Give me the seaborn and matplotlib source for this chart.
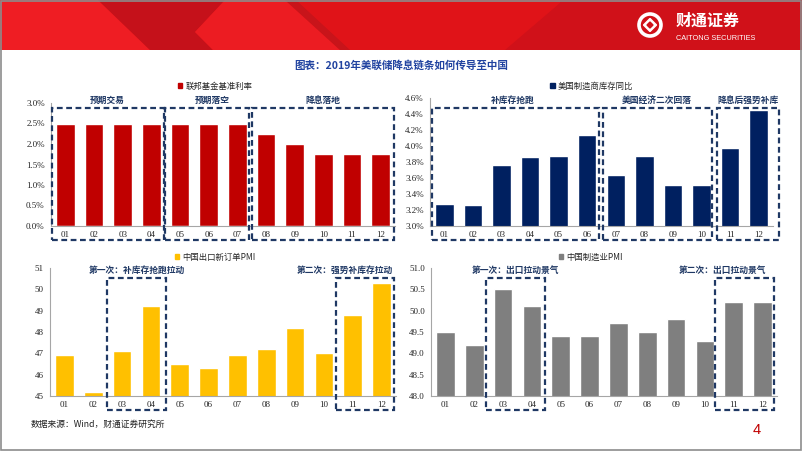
import matplotlib
matplotlib.use("Agg")
import matplotlib.pyplot as plt
import seaborn as sns
import pandas as pd
from matplotlib.patches import Rectangle, Polygon, Circle, Patch, RegularPolygon
from matplotlib.transforms import blended_transform_factory
from matplotlib.ticker import FixedLocator, FuncFormatter

# ---------------- data ----------------
months = ["01", "02", "03", "04", "05", "06", "07", "08", "09", "10", "11", "12"]
fed_rate = [2.50, 2.50, 2.50, 2.50, 2.50, 2.50, 2.50, 2.25, 2.00, 1.75, 1.75, 1.75]
us_inventory_yoy = [3.27, 3.26, 3.76, 3.86, 3.87, 4.14, 3.64, 3.87, 3.51, 3.51, 3.98, 4.45]
cn_export_order_pmi = [46.9, 45.2, 47.1, 49.2, 46.5, 46.3, 46.9, 47.2, 48.2, 47.0, 48.8, 50.3]
cn_mfg_pmi = [49.5, 49.2, 50.5, 50.1, 49.4, 49.4, 49.7, 49.5, 49.8, 49.3, 50.2, 50.2]

legend_labels = ["联邦基金基准利率", "美国制造商库存同比", "中国出口新订单PMI", "中国制造业PMI"]
tl_box_labels = ["预期交易", "预期落空", "降息落地"]
tr_box_labels = ["补库存抢跑", "美国经济二次回落", "降息后强势补库"]
bl_box_labels = ["第一次：补库存抢跑拉动", "第二次：强势补库存拉动"]
br_box_labels = ["第一次：出口拉动景气", "第二次：出口拉动景气"]
title_text = "图表：2019年美联储降息链条如何传导至中国"
source_text = "数据来源：Wind，财通证券研究所"

# ---------------- style ----------------
sns.set_style("white")
CJK = ["Noto Sans CJK SC", "DejaVu Sans"]
SERIF = ["Liberation Serif", "DejaVu Serif"]
plt.rcParams["font.family"] = CJK

W, H = 802, 451
fig = plt.figure(figsize=(W / 100, H / 100), dpi=100)

# background overlay in pixel coords
bg = fig.add_axes([0, 0, 1, 1], zorder=0)
bg.set_xlim(0, W)
bg.set_ylim(H, 0)
bg.axis("off")

# header band
bg.add_patch(Rectangle((0, 0), W, 50, color="#E01318", lw=0))
bg.add_patch(Polygon([(0, 0), (98, 0), (150, 50), (0, 50)], color="#EF1D23", lw=0))
bg.add_patch(Polygon([(98, 0), (225, 0), (195, 32), (213, 50), (150, 50)], color="#C5111A", lw=0))
bg.add_patch(Polygon([(225, 0), (285, 0), (340, 50), (213, 50), (195, 32)], color="#EC1C22", lw=0))
bg.add_patch(Polygon([(285, 0), (296, 0), (350, 50), (340, 50)], color="#C8141A", lw=0))
bg.add_patch(Polygon([(505, 50), (560, 3), (560, 0), (802, 0), (802, 50)], color="#D01119", lw=0))
# logo
bg.add_patch(Circle((650, 25), 11, fill=False, ec="white", lw=2.6))
bg.add_patch(RegularPolygon((650, 25), 4, radius=6.5, orientation=0, fc="white", ec="white"))
bg.add_patch(RegularPolygon((650, 25), 4, radius=3, orientation=0, fc="#D01119", ec="#D01119"))
bg.text(676, 21, "财通证券", color="white", fontsize=11.5, fontweight="bold",
        ha="left", va="center", family=CJK)
bg.text(676, 38.5, "CAITONG SECURITIES", color="white", fontsize=5.3,
        ha="left", va="center", family=["Liberation Sans", "DejaVu Sans"])

# frame
bg.add_patch(Rectangle((1, 1), W - 2.5, H - 2.5, fill=False, ec="#8C8C8C", lw=1.2))

# title & footer
bg.text(401, 66, title_text, color="#2143A0", fontsize=7.6, fontweight="bold",
        ha="center", va="center", family=CJK)
bg.text(31, 424, source_text, color="#222222", fontsize=6.3, ha="left", va="center", family=CJK)
bg.text(757, 430, "4", color="#C00000", fontsize=10.5, ha="center", va="center",
        family=["Liberation Sans", "DejaVu Sans"])

BOX_COLOR = "#1F3864"


def make_ax(left, right, top, bottom):
    return fig.add_axes([left / W, (H - bottom) / H, (right - left) / W, (bottom - top) / H], zorder=2)


def panel(ax, values, color, ylim, ticks, fmt, leg_label, leg_xy, boxes, labels):
    df = pd.DataFrame({"month": months, "value": values})
    sns.barplot(data=df, x="month", y="value", color=color, saturation=1, width=0.65, ax=ax)
    ax.set_ylim(*ylim)
    ax.set_xlim(-0.5, 11.5)
    ax.yaxis.set_major_locator(FixedLocator(ticks))
    ax.yaxis.set_major_formatter(FuncFormatter(fmt))
    ax.set_xlabel("")
    ax.set_ylabel("")
    ax.patch.set_alpha(0)
    for s in ["top", "right"]:
        ax.spines[s].set_visible(False)
    for s in ["left", "bottom"]:
        ax.spines[s].set_color("#A6A6A6")
        ax.spines[s].set_linewidth(0.8)
    ax.tick_params(axis="y", length=2.5, width=0.7, color="#A6A6A6", pad=2, labelsize=6.5)
    ax.tick_params(axis="x", length=0, pad=3.5, labelsize=6.5)
    for t in ax.get_xticklabels() + ax.get_yticklabels():
        t.set_fontfamily(SERIF)
        t.set_color("#262626")
    ax.legend(handles=[Patch(color=color, label=leg_label)], loc="center",
              bbox_to_anchor=leg_xy, bbox_transform=ax.transAxes, frameon=False,
              handlelength=0.55, handleheight=0.55, handletextpad=0.35,
              prop={"family": CJK, "size": 6})
    tr = blended_transform_factory(ax.transData, ax.transAxes)
    for (x0, x1, y0, y1) in boxes:
        ax.add_patch(Rectangle((x0, y0), x1 - x0, y1 - y0, transform=tr, fill=False,
                               ec=BOX_COLOR, lw=1.6, ls=(0, (2.6, 1.6)), clip_on=False, zorder=5))
    for (x, y, txt, ha) in labels:
        ax.text(x, y, txt, transform=tr, ha=ha, va="center", fontsize=6.3,
                fontweight="bold", color=BOX_COLOR, family=CJK)


pct = lambda v, p: f"{v:.1f}%"

# top-left
ax1 = make_ax(51, 395, 103, 226)
panel(ax1, fed_rate, "#C00000", (0, 3.0), [0, 0.5, 1.0, 1.5, 2.0, 2.5, 3.0], pct,
      legend_labels[0], (0.477, 1.138),
      [(-0.47, 3.43, -0.114, 0.959), (3.47, 6.40, -0.114, 0.959), (6.52, 11.45, -0.114, 0.959)],
      [(1.45, 1.024, tl_box_labels[0], "center"), (5.11, 1.024, tl_box_labels[1], "center"),
       (8.99, 1.024, tl_box_labels[2], "center")])

# top-right
ax2 = make_ax(430, 773, 98, 226)
panel(ax2, us_inventory_yoy, "#002060", (3.0, 4.6), [3.0, 3.2, 3.4, 3.6, 3.8, 4.0, 4.2, 4.4, 4.6], pct,
      legend_labels[1], (0.472, 1.094),
      [(-0.42, 5.42, -0.109, 0.922), (5.56, 9.37, -0.109, 0.922), (9.55, 11.70, -0.109, 0.922)],
      [(2.41, 0.984, tr_box_labels[0], "center"), (7.45, 0.984, tr_box_labels[1], "center"),
       (10.63, 0.984, tr_box_labels[2], "center")])

# bottom-left
ax3 = make_ax(50, 396, 268, 396)
panel(ax3, cn_export_order_pmi, "#FFC000", (45, 51), [45, 46, 47, 48, 49, 50, 51],
      lambda v, p: f"{v:.0f}",
      legend_labels[2], (0.477, 1.086),
      [(1.48, 3.54, -0.109, 0.922), (9.42, 11.44, -0.109, 0.922)],
      [(2.51, 0.984, bl_box_labels[0], "center"), (11.40, 0.984, bl_box_labels[1], "right")])

# bottom-right
ax4 = make_ax(431, 777, 268, 396)
panel(ax4, cn_mfg_pmi, "#7F7F7F", (48, 51), [48.0, 48.5, 49.0, 49.5, 50.0, 50.5, 51.0],
      lambda v, p: f"{v:.1f}",
      legend_labels[3], (0.462, 1.086),
      [(1.42, 3.47, -0.109, 0.922), (9.34, 11.40, -0.109, 0.922)],
      [(2.42, 0.984, br_box_labels[0], "center"), (11.14, 0.984, br_box_labels[1], "right")])

fig.savefig("out.png", dpi=100)
